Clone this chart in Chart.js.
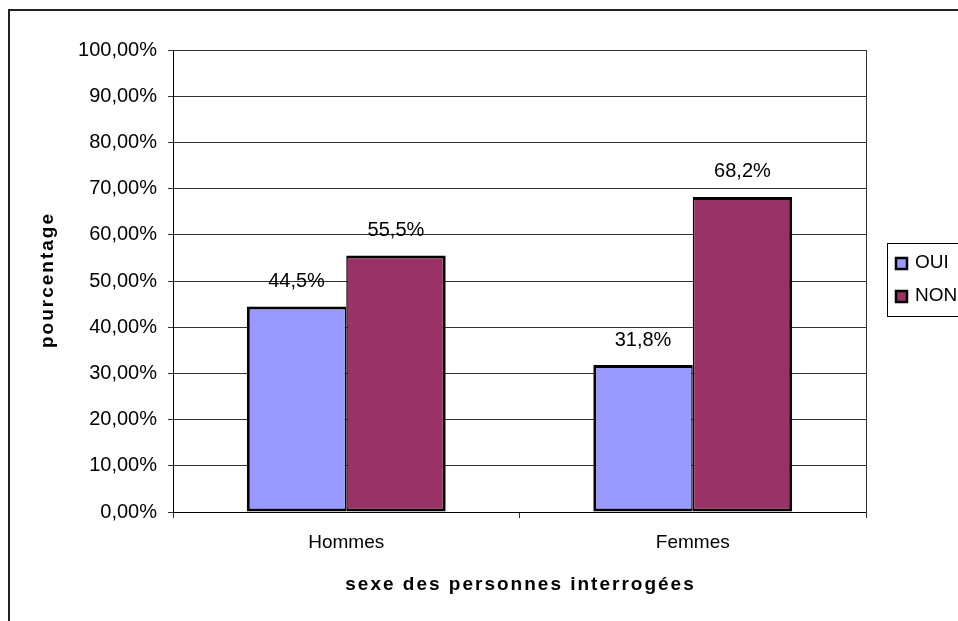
<!DOCTYPE html>
<html>
<head>
<meta charset="utf-8">
<script src="https://cdn.jsdelivr.net/npm/chart.js@4/dist/chart.umd.min.js"></script>
<style>
  html, body { margin: 0; padding: 0; background: #fff; }
  #wrap { width: 958px; height: 621px; }
</style>
</head>
<body>
<div id="wrap"><canvas id="graph"></canvas></div>
<script>
const categories = ['Hommes', 'Femmes']
const oui = [44.5, 31.8]
const non = [55.5, 68.2]
const oui_labels = ['44,5%', '31,8%']
const non_labels = ['55,5%', '68,2%']
const yTicks = [0, 10, 20, 30, 40, 50, 60, 70, 80, 90, 100]

const font = '"Liberation Sans", Arial, sans-serif'

function tickTexte(v) {
    return v.toFixed(2).replace('.', ',') + '%'
}

// cadre, titres des axes, legende et etiquettes
const decor = {
    id: 'decor',
    afterDatasetsDraw(chart) {
        const ctx = chart.ctx
        ctx.save()
        ctx.font = '20px ' + font
        ctx.fillStyle = '#000'
        ctx.textAlign = 'center'
        ctx.textBaseline = 'middle'
        chart.data.datasets.forEach((ds, i) => {
            const meta = chart.getDatasetMeta(i)
            meta.data.forEach((bar, j) => {
                ctx.fillText(ds.etiquettes[j], bar.x, bar.y - 25)
            })
        })
        ctx.restore()
    },
    afterDraw(chart) {
        const ctx = chart.ctx
        const a = chart.chartArea
        ctx.save()
        // bord droit de la zone de tracé
        ctx.strokeStyle = '#333'
        ctx.lineWidth = 1
        ctx.beginPath()
        ctx.moveTo(Math.round(a.right) + 0.5, a.top)
        ctx.lineTo(Math.round(a.right) + 0.5, a.bottom + 6)
        ctx.stroke()

        // cadre exterieur
        ctx.strokeStyle = '#222'
        ctx.lineWidth = 2
        ctx.strokeRect(9, 10, 1000, 700)

        // titres
        ctx.fillStyle = '#000'
        ctx.font = 'bold 19px ' + font
        ctx.letterSpacing = '2px'
        ctx.textAlign = 'center'
        ctx.textBaseline = 'middle'
        ctx.fillText('sexe des personnes interrogées', (a.left + a.right) / 2 + 1, 585)
        ctx.translate(48, (a.top + a.bottom) / 2)
        ctx.rotate(-Math.PI / 2)
        ctx.fillText('pourcentage', 1, 0)
        ctx.restore()

        // legende
        ctx.save()
        ctx.strokeStyle = '#000'
        ctx.lineWidth = 1
        ctx.strokeRect(887.5, 243.5, 100, 73)
        ctx.font = '19px ' + font
        ctx.textBaseline = 'middle'
        ctx.textAlign = 'left'
        chart.data.datasets.forEach((ds, i) => {
            const y = 263 + i * 33
            ctx.fillStyle = ds.backgroundColor
            ctx.fillRect(896, y - 5, 11, 11)
            ctx.lineWidth = 2.5
            ctx.strokeRect(896, y - 5, 11, 11)
            ctx.fillStyle = '#000'
            ctx.fillText(ds.label, 915, y)
        })
        ctx.restore()
    }
}

new Chart(document.getElementById('graph'), {
    type: 'bar',
    data: {
        labels: categories,
        datasets: [
            {
                label: 'OUI',
                data: oui,
                etiquettes: oui_labels,
                backgroundColor: '#9999FF',
                borderColor: '#000',
                borderWidth: { top: 3, left: 3, right: 1.5, bottom: 3 },
                borderSkipped: false
            },
            {
                label: 'NON',
                data: non,
                etiquettes: non_labels,
                backgroundColor: '#993366',
                borderColor: '#000',
                borderWidth: { top: 3, left: 1.5, right: 3, bottom: 3 },
                borderSkipped: false
            }
        ]
    },
    options: {
        responsive: true,
        maintainAspectRatio: false,
        animation: false,
        devicePixelRatio: 1,
        layout: { padding: { left: 0, top: 50, right: 92, bottom: 0 } },
        plugins: {
            legend: { display: false },
            tooltip: { enabled: false }
        },
        datasets: {
            bar: { categoryPercentage: 0.574, barPercentage: 1 }
        },
        scales: {
            x: {
                afterFit(scale) { scale.height = 109 },
                grid: {
                    offset: true,
                    drawOnChartArea: false,
                    drawTicks: true,
                    tickLength: 6,
                    color: '#333'
                },
                border: { color: '#000', width: 1 },
                ticks: {
                    color: '#000',
                    padding: 13,
                    font: { family: font, size: 19 }
                }
            },
            y: {
                min: 0,
                max: 100,
                afterFit(scale) { scale.width = 173 },
                afterBuildTicks(scale) {
                    scale.ticks = yTicks.map(v => ({ value: v }))
                },
                grid: {
                    color: '#333',
                    tickLength: 5
                },
                border: { color: '#000', width: 1 },
                ticks: {
                    color: '#000',
                    padding: 11,
                    font: { family: font, size: 20 },
                    callback: v => tickTexte(v)
                }
            }
        }
    },
    plugins: [decor]
})
</script>
</body>
</html>
